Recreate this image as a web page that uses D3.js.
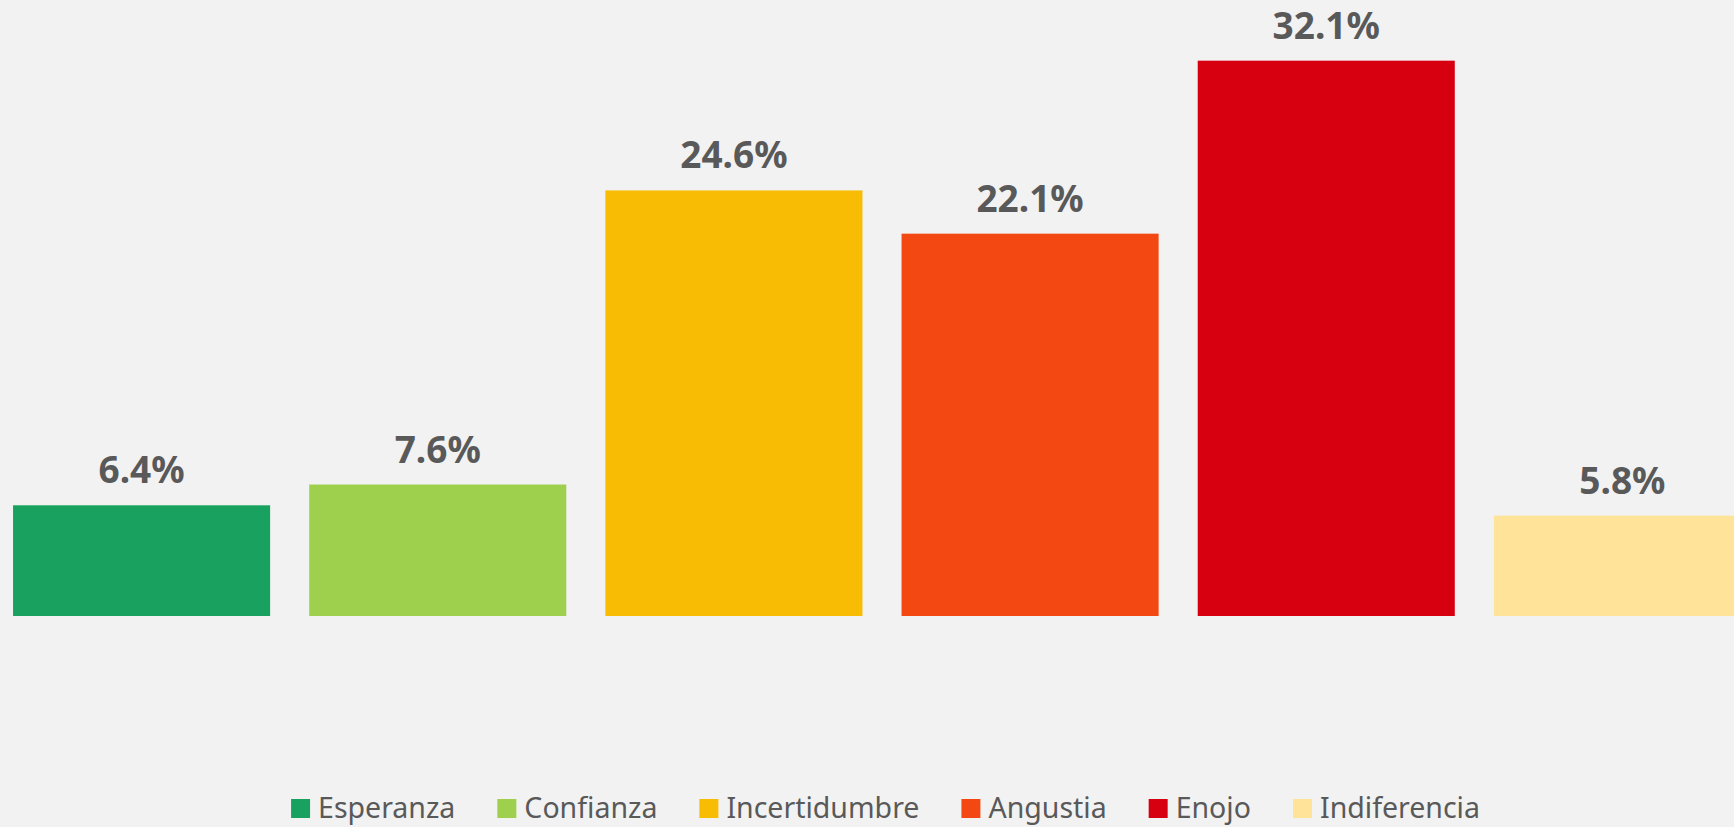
<!DOCTYPE html>
<html>
<head>
<meta charset="utf-8">
<script src="https://cdn.jsdelivr.net/npm/d3@7"></script>
<style>
  body { margin: 0; background: #f2f2f2; overflow: hidden; }
  svg { display: block; }
</style>
</head>
<body>
<div id="chart"></div>
<script>
'use strict';

// data
var categories = ['Esperanza', 'Confianza', 'Incertidumbre', 'Angustia', 'Enojo', 'Indiferencia'];
var values = [6.4, 7.6, 24.6, 22.1, 32.1, 5.8];
var colors = ['#19a25f', '#9ed04d', '#f8bc04', '#f44812', '#d60010', '#fee398'];

var width = 1734;
var height = 827;
var textColor = '#595959';

var svg = d3.select('#chart').append('svg')
  .attr('width', width)
  .attr('height', height);

svg.append('rect')
  .attr('width', width)
  .attr('height', height)
  .attr('fill', '#f2f2f2');

// plot area runs a bit past the right edge, like the original
var xScale = d3.scaleBand()
  .domain(categories)
  .range([-6.5, 1770.5])
  .paddingInner(0.132)
  .paddingOuter(0.066);

var yScale = d3.scaleLinear()
  .domain([0, 35])
  .range([616, 10.5]);

svg.selectAll('.bar')
  .data(categories)
  .enter().append('rect')
    .attr('class', 'bar')
    .attr('x', function(d){ return xScale(d); })
    .attr('y', function(d, i){ return yScale(values[i]); })
    .attr('width', xScale.bandwidth())
    .attr('height', function(d, i){ return yScale(0) - yScale(values[i]); })
    .attr('fill', function(d, i){ return colors[i]; });

svg.selectAll('.label')
  .data(categories)
  .enter().append('text')
    .attr('class', 'label')
    .attr('x', function(d){ return xScale(d) + xScale.bandwidth() / 2; })
    .attr('y', function(d, i){ return yScale(values[i]) - 22; })
    .attr('text-anchor', 'middle')
    .attr('font-family', '"Noto Sans", "Open Sans", sans-serif')
    .attr('font-weight', 'bold')
    .attr('font-size', 37)
    .attr('fill', textColor)
    .text(function(d, i){ return values[i].toFixed(1) + '%'; });

// legend, laid out from measured text widths and then centred
var legend = svg.append('g');
var sq = 19, sqGap = 8, itemGap = 42;
var cursor = 0;
categories.forEach(function(c, i){
  var g = legend.append('g').attr('transform', 'translate(' + cursor + ',0)');
  g.append('rect')
    .attr('x', 0)
    .attr('y', -sq)
    .attr('width', sq)
    .attr('height', sq)
    .attr('fill', colors[i]);
  var t = g.append('text')
    .attr('x', sq + sqGap)
    .attr('y', 0)
    .attr('font-family', '"Noto Sans", "Open Sans", sans-serif')
    .attr('font-size', 28.5)
    .attr('fill', textColor)
    .text(c);
  cursor += sq + sqGap + t.node().getComputedTextLength() + itemGap;
});
var legendWidth = cursor - itemGap;
legend.attr('transform', 'translate(' + (885.5 - legendWidth / 2) + ',818)');
</script>
</body>
</html>
